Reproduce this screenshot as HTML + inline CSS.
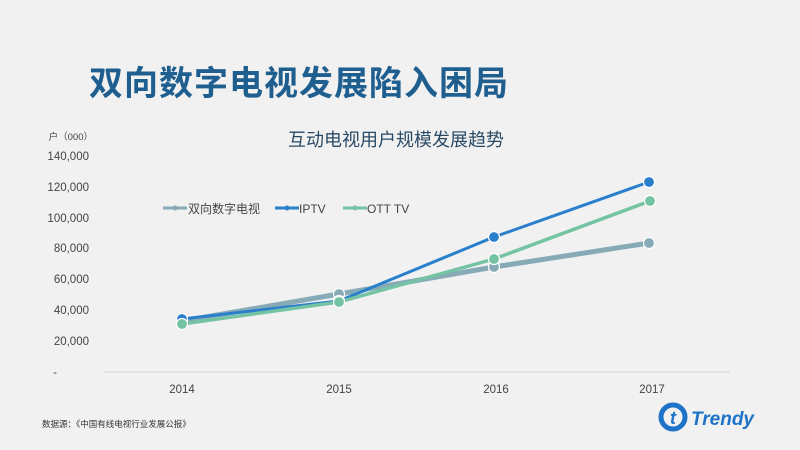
<!DOCTYPE html>
<html><head><meta charset="utf-8"><style>
html,body{margin:0;padding:0}
body{width:800px;height:450px;background:#f1f1f1;position:relative;overflow:hidden;font-family:"Liberation Sans","Noto Sans CJK SC",sans-serif}
.t{position:absolute;white-space:nowrap}
</style></head><body>
<div class="t" style="left:89px;top:56px;font-size:34px;font-weight:bold;color:#1f5f8f;letter-spacing:1px">双向数字电视发展陷入困局</div>
<div class="t" style="left:288px;top:126px;font-size:18px;color:#2a4a66">互动电视用户规模发展趋势</div>
<svg width="800" height="450" style="position:absolute;left:0;top:0">
<g font-family="Liberation Sans, Noto Sans CJK SC, sans-serif" font-size="11.5" fill="#444" text-anchor="end">
<text x="93" y="140" font-size="9.5">户（000）</text>
<text x="89" y="160">140,000</text>
<text x="89" y="191">120,000</text>
<text x="89" y="222">100,000</text>
<text x="89" y="252">80,000</text>
<text x="89" y="283">60,000</text>
<text x="89" y="314">40,000</text>
<text x="89" y="345">20,000</text>
<text x="57" y="376">-</text>
</g>
<line x1="104" y1="372" x2="730" y2="372" stroke="#d8d8d8" stroke-width="1"/>
<g font-family="Liberation Sans, sans-serif" font-size="11.5" fill="#444" text-anchor="middle">
<text x="182" y="393">2014</text><text x="339" y="393">2015</text><text x="496" y="393">2016</text><text x="652" y="393">2017</text>
</g>
<g fill="none" stroke-linejoin="round">
<polyline points="182,321 339,294 494,267 649,243" stroke="#86aab6" stroke-width="5"/>
<polyline points="182,319 339,301 494,237 649,182" stroke="#2a7fcc" stroke-width="3"/>
<polyline points="182,324 339,302 494,259 650,201" stroke="#74c3a2" stroke-width="3.5"/>
</g>
<g stroke="#fff" stroke-width="1.2">
<g fill="#86aab6"><circle cx="182" cy="321" r="5.5"/><circle cx="339" cy="294" r="5.5"/><circle cx="494" cy="267" r="5.5"/><circle cx="649" cy="243" r="5.5"/></g>
<g fill="#2a7fcc"><circle cx="182" cy="319" r="5.5"/><circle cx="339" cy="301" r="5.5"/><circle cx="494" cy="237" r="5.5"/><circle cx="649" cy="182" r="5.5"/></g>
<g fill="#74c3a2"><circle cx="182" cy="324" r="5.5"/><circle cx="339" cy="302" r="5.5"/><circle cx="494" cy="259" r="5.5"/><circle cx="650" cy="201" r="5.5"/></g>
</g>
<g font-family="Liberation Sans, Noto Sans CJK SC, sans-serif" font-size="12" fill="#444">
<line x1="163" y1="208" x2="187" y2="208" stroke="#86aab6" stroke-width="3"/><circle cx="175" cy="208" r="2.5" fill="#86aab6"/>
<text x="188" y="213">双向数字电视</text>
<line x1="275" y1="208" x2="299" y2="208" stroke="#2a7fcc" stroke-width="3"/><circle cx="287" cy="208" r="2.5" fill="#2a7fcc"/>
<text x="299" y="213">IPTV</text>
<line x1="343" y1="208" x2="367" y2="208" stroke="#74c3a2" stroke-width="3"/><circle cx="355" cy="208" r="2.5" fill="#74c3a2"/>
<text x="367" y="213">OTT TV</text>
</g>
<g>
<circle cx="673" cy="417" r="12" fill="none" stroke="#1e73c8" stroke-width="5"/>
<text x="673" y="424" font-family="Liberation Sans, sans-serif" font-size="18" font-weight="bold" fill="#1e73c8" text-anchor="middle" font-style="italic">t</text>
<text x="691" y="425" font-family="Liberation Sans, sans-serif" font-size="19" font-weight="bold" font-style="italic" fill="#1e73c8">Trendy</text>
</g>
</svg>
<div class="t" style="left:42px;top:418px;font-size:8.5px;color:#333">数据源：《中国有线电视行业发展公报》</div>
</body></html>
